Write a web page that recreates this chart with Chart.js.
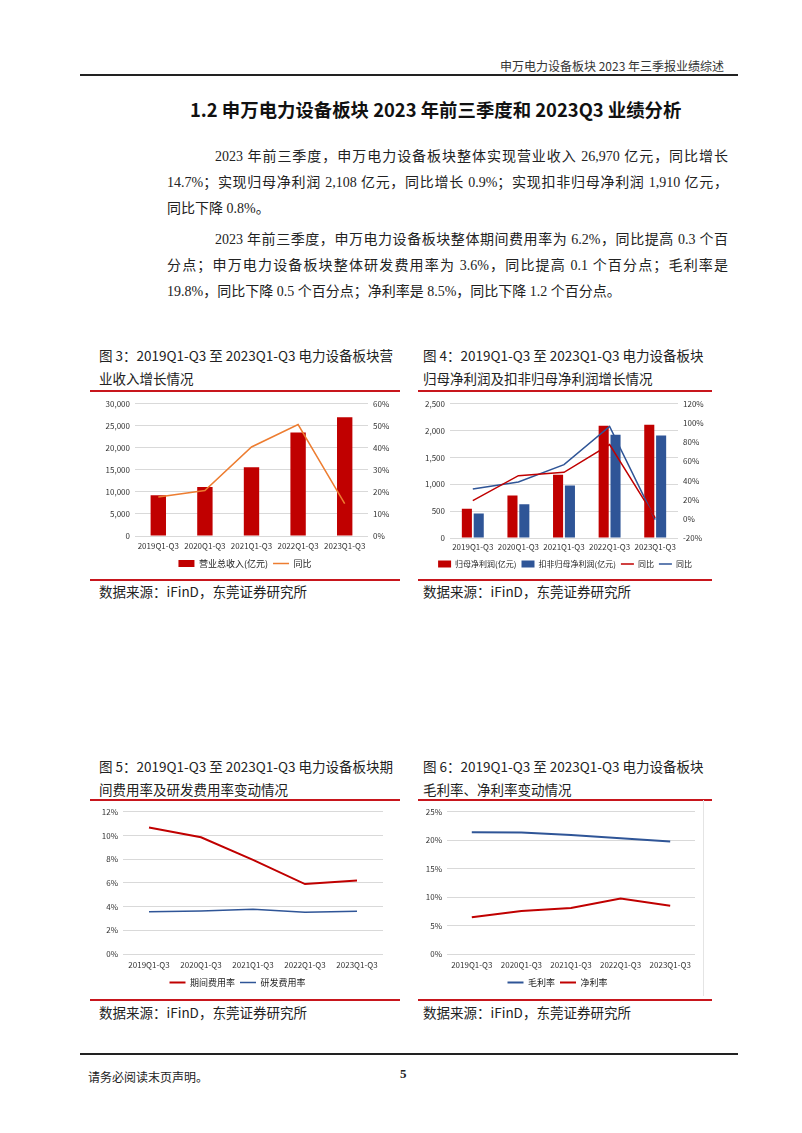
<!DOCTYPE html>
<html>
<head>
<meta charset="utf-8">
<script src="https://cdn.jsdelivr.net/npm/chart.js@4.4.0/dist/chart.umd.min.js"></script>
<style>
  body { margin: 0; background: #fff; }
  #page { position: relative; width: 802px; height: 1133px; overflow: hidden; font-family: "Noto Sans CJK SC", sans-serif; color: #222; }
  .abs { position: absolute; white-space: nowrap; }
  .rule { position: absolute; background: #222; }
  .red { position: absolute; height: 2px; background: #c8161d; }
  .cap { position: absolute; font-size: 13.5px; line-height: 23px; white-space: nowrap; color: #222; }
  .src { position: absolute; font-size: 13.5px; white-space: nowrap; color: #222; }
  .ln { position: absolute; left: 167px; width: 561px; height: 26px; line-height: 26px; font-family: "Liberation Serif", "Noto Sans CJK SC", serif; font-size: 14px; white-space: nowrap; text-align: justify; text-align-last: justify; color: #222; }
  .ln.first { left: 215px; width: 513px; }
  .ln.last { text-align-last: left; }
  .box { position: absolute; }
</style>
</head>
<body>
<div id="page">
  <div class="abs" style="right:78px; top:57px; font-size:12px; color:#333;">申万电力设备板块 2023 年三季报业绩综述</div>
  <div class="rule" style="left:80px; top:74px; width:658px; height:1.5px;"></div>
  <div class="abs" style="left:190px; top:96px; font-size:18.4px; font-weight:bold; color:#111;">1.2 申万电力设备板块 2023 年前三季度和 2023Q3 业绩分析</div>

  <div class="ln first" style="top:144px;">2023 年前三季度，申万电力设备板块整体实现营业收入 26,970 亿元，同比增长</div>
  <div class="ln" style="top:170px;">14.7%；实现归母净利润 2,108 亿元，同比增长 0.9%；实现扣非归母净利润 1,910 亿元，</div>
  <div class="ln last" style="top:196px;">同比下降 0.8%。</div>
  <div class="ln first" style="top:227px;">2023 年前三季度，申万电力设备板块整体期间费用率为 6.2%，同比提高 0.3 个百</div>
  <div class="ln" style="top:253px;">分点；申万电力设备板块整体研发费用率为 3.6%，同比提高 0.1 个百分点；毛利率是</div>
  <div class="ln last" style="top:279px;">19.8%，同比下降 0.5 个百分点；净利率是 8.5%，同比下降 1.2 个百分点。</div>

  <div class="cap" style="left:99px; top:344px;">图 3：2019Q1-Q3 至 2023Q1-Q3 电力设备板块营<br>业收入增长情况</div>
  <div class="cap" style="left:423px; top:344px;">图 4：2019Q1-Q3 至 2023Q1-Q3 电力设备板块<br>归母净利润及扣非归母净利润增长情况</div>
  <div class="red" style="left:90px; top:390px; width:310px;"></div>
  <div class="red" style="left:418px; top:390px; width:294px;"></div>
  <div class="box" style="left:92px; top:394px; width:306px; height:184px;"><canvas id="c1"></canvas></div>
  <div class="box" style="left:420px; top:394px; width:290px; height:184px;"><canvas id="c2"></canvas></div>
  <div class="red" style="left:90px; top:579px; width:310px;"></div>
  <div class="red" style="left:418px; top:579px; width:294px;"></div>
  <div class="src" style="left:99px; top:581px;">数据来源：iFinD，东莞证券研究所</div>
  <div class="src" style="left:423px; top:581px;">数据来源：iFinD，东莞证券研究所</div>

  <div class="cap" style="left:99px; top:755px;">图 5：2019Q1-Q3 至 2023Q1-Q3 电力设备板块期<br>间费用率及研发费用率变动情况</div>
  <div class="cap" style="left:423px; top:755px;">图 6：2019Q1-Q3 至 2023Q1-Q3 电力设备板块<br>毛利率、净利率变动情况</div>
  <div class="red" style="left:90px; top:799px; width:310px;"></div>
  <div class="red" style="left:418px; top:799px; width:294px;"></div>
  <div class="box" style="left:92px; top:802px; width:306px; height:195px;"><canvas id="c3"></canvas></div>
  <div class="box" style="left:420px; top:802px; width:290px; height:195px;"><canvas id="c4"></canvas></div>
  <div style="position:absolute; left:703px; top:800px; width:1px; height:196px; background:#e4e4e4;"></div>
  <div class="red" style="left:90px; top:999px; width:310px;"></div>
  <div class="red" style="left:418px; top:999px; width:294px;"></div>
  <div class="src" style="left:99px; top:1002px;">数据来源：iFinD，东莞证券研究所</div>
  <div class="src" style="left:423px; top:1002px;">数据来源：iFinD，东莞证券研究所</div>

  <div class="rule" style="left:80px; top:1053px; width:658px; height:1.5px;"></div>
  <div class="abs" style="left:88px; top:1068px; font-size:12px; color:#222;">请务必阅读末页声明。</div>
  <div class="abs" style="left:400px; top:1066px; font-size:13px; font-weight:bold; font-family:'Liberation Serif', serif;">5</div>
</div>

<script>
const categories = ['2019Q1-Q3', '2020Q1-Q3', '2021Q1-Q3', '2022Q1-Q3', '2023Q1-Q3'];

// 图3 营业总收入
const revenue = [9220, 11100, 15600, 23500, 26970];
const revenueYoy = [17.7, 20.6, 40.4, 50.6, 14.7];

// 图4 归母 / 扣非归母净利润
const netProfit = [546, 790, 1180, 2090, 2108];
const deductedProfit = [455, 628, 980, 1925, 1910];
const netProfitYoy = [19, 45, 48.5, 77.5, 0.9];
const deductedYoy = [31, 38.5, 56.5, 96.5, -0.8];

// 图5 期间费用率 / 研发费用率
const expenseRate = [10.68, 9.85, 7.95, 5.9, 6.2];
const rdRate = [3.56, 3.63, 3.78, 3.52, 3.6];

// 图6 毛利率 / 净利率
const grossMargin = [21.4, 21.38, 20.9, 20.33, 19.8];
const netMargin = [6.45, 7.55, 8.1, 9.75, 8.5];

const RED = '#c00000';
const BLUE = '#2f5597';
const ORANGE = '#ed7d31';
const GRID = '#d9d9d9';
const tickFont = {family: 'Noto Sans CJK SC', size: 8};

Chart.defaults.color = '#333';
Chart.defaults.font.family = 'Noto Sans CJK SC';

function legend(padding, size, swatch) {
  return {
    position: 'bottom',
    labels: {
      font: {size: size},
      color: '#222',
      usePointStyle: true,
      boxHeight: 7,
      pointStyleWidth: swatch,
      padding: padding,
      sort: (a, b) => a.datasetIndex - b.datasetIndex,
      generateLabels: chart => Chart.defaults.plugins.legend.labels.generateLabels(chart).map(l => {
        const ds = chart.data.datasets[l.datasetIndex];
        const isLine = (ds.type || chart.config.type) === 'line';
        l.pointStyle = isLine ? 'line' : 'rect';
        return l;
      })
    }
  };
}

function xAxis(h, pad) {
  return {
    offset: true,
    grid: {display: false, drawTicks: false},
    border: {display: false},
    ticks: {font: tickFont, padding: pad, maxRotation: 0, autoSkip: false, color: '#333'},
    afterFit: s => { s.height = h; }
  };
}

function yAxis(pos, w, min, max, step, fmt, grid) {
  return {
    position: pos,
    min: min, max: max,
    grid: {display: grid, color: GRID, drawTicks: false},
    border: {display: false},
    ticks: {font: tickFont, padding: 5, stepSize: step, callback: fmt, color: '#333'},
    afterFit: s => { s.width = w; }
  };
}

const thousands = v => v.toLocaleString('en-US');
const pct = v => v + '%';

new Chart(document.getElementById('c1'), {
  type: 'bar',
  data: {
    labels: categories,
    datasets: [
      {label: '营业总收入(亿元)', data: revenue, yAxisID: 'y', backgroundColor: RED, categoryPercentage: 1, barPercentage: 0.33, order: 1},
      {type: 'line', label: '同比', data: revenueYoy, yAxisID: 'y1', borderColor: ORANGE, backgroundColor: ORANGE, borderWidth: 1.5, pointRadius: 0, tension: 0, order: 0}
    ]
  },
  options: {
    responsive: true, maintainAspectRatio: false, animation: false,
    layout: {padding: {top: 9, bottom: 0, left: 0, right: 0}},
    plugins: {legend: legend(5, 9, 16), tooltip: {enabled: false}},
    scales: {
      x: xAxis(18, 5),
      y: yAxis('left', 43, 0, 30000, 5000, thousands, true),
      y1: yAxis('right', 30, 0, 60, 10, pct, false)
    }
  }
});

new Chart(document.getElementById('c2'), {
  type: 'bar',
  data: {
    labels: categories,
    datasets: [
      {label: '归母净利润(亿元)', data: netProfit, yAxisID: 'y', backgroundColor: RED, categoryPercentage: 0.52, barPercentage: 0.85, order: 2},
      {label: '扣非归母净利润(亿元)', data: deductedProfit, yAxisID: 'y', backgroundColor: BLUE, categoryPercentage: 0.52, barPercentage: 0.85, order: 3},
      {type: 'line', label: '同比', data: netProfitYoy, yAxisID: 'y1', borderColor: RED, backgroundColor: RED, borderWidth: 1.5, pointRadius: 0, tension: 0, order: 0},
      {type: 'line', label: '同比', data: deductedYoy, yAxisID: 'y1', borderColor: BLUE, backgroundColor: BLUE, borderWidth: 1.5, pointRadius: 0, tension: 0, order: 1}
    ]
  },
  options: {
    responsive: true, maintainAspectRatio: false, animation: false,
    layout: {padding: {top: 9, bottom: 0, left: 0, right: 0}},
    plugins: {legend: legend(5, 8, 13), tooltip: {enabled: false}},
    scales: {
      x: xAxis(17, 4),
      y: yAxis('left', 30, 0, 2500, 500, thousands, true),
      y1: yAxis('right', 32, -20, 120, 20, pct, false)
    }
  }
});

new Chart(document.getElementById('c3'), {
  type: 'line',
  data: {
    labels: categories,
    datasets: [
      {label: '期间费用率', data: expenseRate, borderColor: RED, backgroundColor: RED, borderWidth: 2, pointRadius: 0, tension: 0},
      {label: '研发费用率', data: rdRate, borderColor: BLUE, backgroundColor: BLUE, borderWidth: 1.5, pointRadius: 0, tension: 0}
    ]
  },
  options: {
    responsive: true, maintainAspectRatio: false, animation: false,
    layout: {padding: {top: 8, bottom: 0, left: 0, right: 15}},
    plugins: {legend: legend(5, 9, 16), tooltip: {enabled: false}},
    scales: {
      x: xAxis(19, 6),
      y: yAxis('left', 31, 0, 12, 2, pct, true)
    }
  }
});

new Chart(document.getElementById('c4'), {
  type: 'line',
  data: {
    labels: categories,
    datasets: [
      {label: '毛利率', data: grossMargin, borderColor: BLUE, backgroundColor: BLUE, borderWidth: 2, pointRadius: 0, tension: 0},
      {label: '净利率', data: netMargin, borderColor: RED, backgroundColor: RED, borderWidth: 2, pointRadius: 0, tension: 0}
    ]
  },
  options: {
    responsive: true, maintainAspectRatio: false, animation: false,
    layout: {padding: {top: 9, bottom: 0, left: 0, right: 15}},
    plugins: {legend: legend(5, 9, 16), tooltip: {enabled: false}},
    scales: {
      x: xAxis(19, 6),
      y: yAxis('left', 27, 0, 25, 5, pct, true)
    }
  }
});
</script>
</body>
</html>
